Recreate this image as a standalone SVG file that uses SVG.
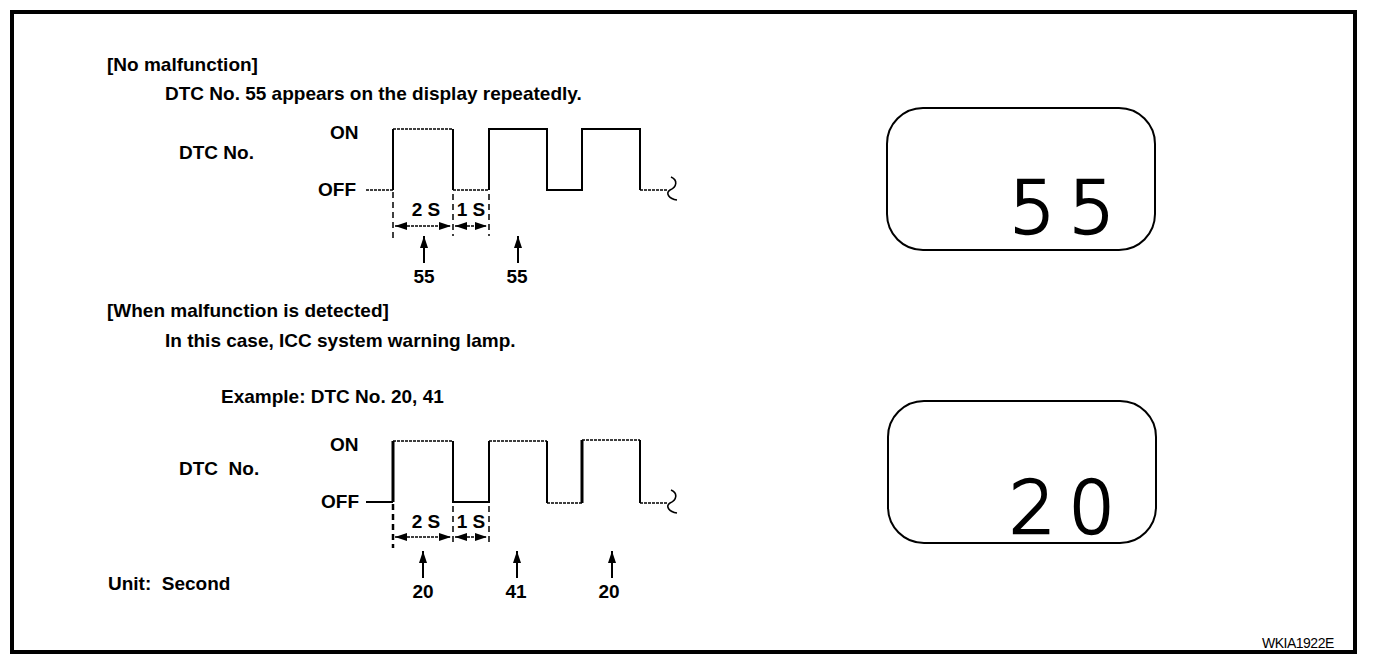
<svg xmlns="http://www.w3.org/2000/svg" width="1376" height="666" viewBox="0 0 1376 666">
<style>
.t{font-family:"Liberation Sans",Arial,sans-serif;font-weight:bold;font-size:19px;fill:#000}
.w{fill:none;stroke:#000;stroke-width:2}
.d{fill:none;stroke:#000;stroke-width:1.3;stroke-dasharray:3 1}
.thin{fill:none;stroke:#000;stroke-width:1.6}
.dash{fill:none;stroke:#000;stroke-width:1.5;stroke-dasharray:6 4}
.big{font-family:"DejaVu Sans ExtraLight","DejaVu Sans",sans-serif;font-weight:200;font-size:73px;letter-spacing:13px;fill:#000;stroke:#000;stroke-width:2.4}
.box{fill:none;stroke:#000;stroke-width:2}
</style>
<defs>
<marker id="ah" viewBox="0 0 12 8" refX="12" refY="4" markerWidth="12" markerHeight="8" markerUnits="userSpaceOnUse" orient="auto-start-reverse">
<path d="M0,0 L12,4 L0,8 z" fill="#000"/>
</marker>
</defs>
<rect x="0" y="0" width="1376" height="666" fill="#fff"/>
<rect x="12" y="12" width="1343" height="640" fill="none" stroke="#000" stroke-width="4"/>

<g id="texts-top">
<text class="t" x="107" y="71">[No malfunction]</text>
<text class="t" x="165" y="100">DTC No. 55 appears on the display repeatedly.</text>
<text class="t" x="179" y="159">DTC No.</text>
<text class="t" x="330" y="139">ON</text>
<text class="t" x="318" y="196">OFF</text>
</g>

<g id="wave1">
<path class="d" d="M366,190 L393,190"/>
<path class="w" d="M393,190 L393,129"/>
<path class="d" d="M393,129 L453,129"/>
<path class="w" d="M453,129 L453,190"/>
<path class="d" d="M453,190 L489,190"/>
<path class="w" d="M489,190 L489,129 L547,129 L547,190 L582,190 L582,129 L640,129 L640,190"/>
<path class="d" d="M640,190 L668,190"/>
<path class="thin" d="M671,177 C678,180 677,187 670,190 C665,193 669,199 677,200"/>
</g>

<g id="timing1">
<path class="dash" d="M393,192 V238 M453,194 V236 M489,194 V236"/>
<text class="t" x="426" y="216" text-anchor="middle">2 S</text>
<text class="t" x="471" y="216" text-anchor="middle">1 S</text>
<path class="d" d="M395,226 L451,226" marker-start="url(#ah)" marker-end="url(#ah)"/>
<path class="d" d="M455,226 L487,226" marker-start="url(#ah)" marker-end="url(#ah)"/>
<path class="w" d="M424,263 L424,236" marker-end="url(#ah)"/>
<path class="w" d="M518,263 L518,236" marker-end="url(#ah)"/>
<text class="t" x="424" y="283" text-anchor="middle">55</text>
<text class="t" x="517" y="283" text-anchor="middle">55</text>
</g>

<g id="display1">
<rect class="box" x="887" y="108" width="268" height="142" rx="36"/>
<text class="big" x="1009" y="233">55</text>
</g>

<g id="texts-bottom">
<text class="t" x="107" y="317">[When malfunction is detected]</text>
<text class="t" x="165" y="347">In this case, ICC system warning lamp.</text>
<text class="t" x="221" y="403">Example: DTC No. 20, 41</text>
<text class="t" x="179" y="475" xml:space="preserve">DTC  No.</text>
<text class="t" x="330" y="451">ON</text>
<text class="t" x="321" y="508">OFF</text>
<text class="t" x="108" y="590" xml:space="preserve">Unit:  Second</text>
</g>

<g id="wave2">
<path class="w" d="M366,502 L393,502"/>
<path class="w" style="stroke-width:3" d="M393,502 L393,441"/>
<path class="d" d="M393,441 L453,441"/>
<path class="w" d="M453,441 L453,502 L489,502 L489,441"/>
<path class="d" d="M489,441 L547,441"/>
<path class="w" d="M547,441 L547,503"/>
<path class="d" d="M547,503 L582,503"/>
<path class="w" style="stroke-width:3" d="M582,503 L582,440"/>
<path class="d" d="M582,440 L640,440"/>
<path class="w" d="M640,440 L640,503"/>
<path class="d" d="M640,503 L668,503"/>
<path class="thin" d="M671,490 C678,493 677,500 670,503 C665,506 669,512 677,513"/>
</g>

<g id="timing2">
<path class="dash" style="stroke-width:2.5" d="M393,504 V548"/>
<path class="dash" d="M453,506 V544 M489,506 V546"/>
<text class="t" x="426" y="528" text-anchor="middle">2 S</text>
<text class="t" x="471" y="528" text-anchor="middle">1 S</text>
<path class="d" d="M395,537 L451,537" marker-start="url(#ah)" marker-end="url(#ah)"/>
<path class="d" d="M455,537 L487,537" marker-start="url(#ah)" marker-end="url(#ah)"/>
<path class="w" d="M423,578 L423,551" marker-end="url(#ah)"/>
<path class="w" d="M517,578 L517,551" marker-end="url(#ah)"/>
<path class="w" d="M612,578 L612,551" marker-end="url(#ah)"/>
<text class="t" x="423" y="598" text-anchor="middle">20</text>
<text class="t" x="516" y="598" text-anchor="middle">41</text>
<text class="t" x="609" y="598" text-anchor="middle">20</text>
</g>

<g id="display2">
<rect class="box" x="888" y="401" width="268" height="142" rx="36"/>
<text class="big" x="1009" y="533">20</text>
</g>

<text x="1262" y="648" style="font-family:'Liberation Sans',Arial,sans-serif;font-size:14px;letter-spacing:-0.5px">WKIA1922E</text>
</svg>
